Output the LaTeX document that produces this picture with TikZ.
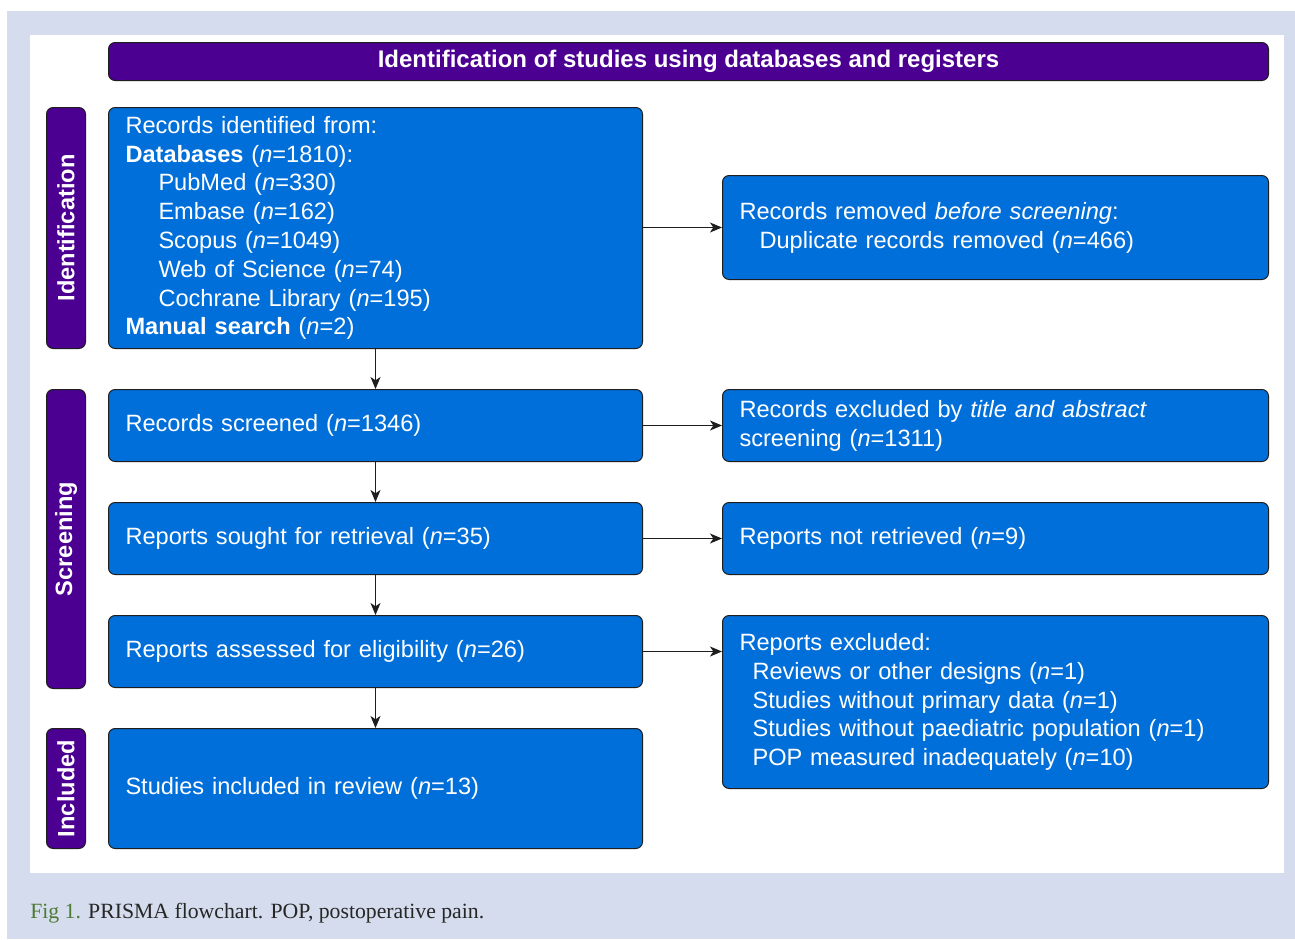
\documentclass[tikz,border=0pt]{standalone}
\usepackage{fontspec}
\setmainfont{Liberation Sans}
\newfontfamily\capfont{Liberation Serif}
\usetikzlibrary{arrows.meta,calc}
\definecolor{boxblue}{RGB}{0,111,218}
\definecolor{hdrpurple}{RGB}{75,0,145}
\definecolor{pagebg}{RGB}{213,220,237}
\definecolor{figgreen}{RGB}{76,122,52}
\definecolor{edge}{RGB}{30,30,30}
\newcommand\mainfs{\fontsize{17.7pt}{21.6pt}\selectfont}
\newcommand\hdrfs{\fontsize{18pt}{21.6pt}\selectfont}
\tikzset{
  bluebox/.style={draw=edge, fill=boxblue, rounded corners=5pt, line width=0.75pt,
    text=white, align=left, inner xsep=12.75pt, inner ysep=0pt, font=\mainfs, anchor=north west},
  leftbox/.style={bluebox, minimum width=400.5pt, text width=375pt},
  rightbox/.style={bluebox, minimum width=409.5pt, text width=384pt},
  sidebar/.style={draw=edge, fill=hdrpurple, rounded corners=5pt, line width=0.75pt,
    minimum width=29.25pt, inner sep=0pt, anchor=north west},
  sidelabel/.style={text=white, font=\mainfs\bfseries, rotate=90, inner sep=0pt},
  flowarrow/.style={draw=edge, line width=0.95pt, -{Stealth[length=9pt,width=7.5pt,inset=2.5pt]}},
}
\begin{document}
\begin{tikzpicture}[x=0.75pt,y=-0.75pt]
\useasboundingbox (0,0) rectangle (1295,939);
\fill[pagebg] (7,11) rectangle (1295,939);
\fill[white] (30,35) rectangle (1284,873);

% header
\node[draw=edge, fill=hdrpurple, rounded corners=5pt, line width=0.75pt, anchor=north west,
  minimum width=870pt, minimum height=28.5pt, inner sep=0pt, text=white, font=\hdrfs\bfseries]
  (hdr) at (108,42) {Identification of studies using databases and registers};

% side bars
\node[sidebar, minimum height=180.75pt] (idbar) at (46,107) {};
\node[sidelabel] (idlab) at (idbar.center) {Identification};
\node[sidebar, minimum height=224.25pt] (scbar) at (46,389) {};
\node[sidelabel] (sclab) at (scbar.center) {Screening};
\node[sidebar, minimum height=90pt] (inbar) at (46,728) {};
\node[sidelabel] (inlab) at (inbar.center) {Included};

% left column
\node[leftbox, minimum height=180.75pt] (b1) at (108,107) {Records identified from:\\
\textbf{Databases} (\textit{n}=1810):\\
\hspace*{24.75pt}PubMed (\textit{n}=330)\\
\hspace*{24.75pt}Embase (\textit{n}=162)\\
\hspace*{24.75pt}Scopus (\textit{n}=1049)\\
\hspace*{24.75pt}Web of Science (\textit{n}=74)\\
\hspace*{24.75pt}Cochrane Library (\textit{n}=195)\\
\textbf{Manual search} (\textit{n}=2)};
\node[leftbox, minimum height=54pt] (b2) at (108,389) {Records screened (\textit{n}=1346)};
\node[leftbox, minimum height=54pt] (b3) at (108,502) {Reports sought for retrieval (\textit{n}=35)};
\node[leftbox, minimum height=54pt] (b4) at (108,615) {Reports assessed for eligibility (\textit{n}=26)};
\node[leftbox, minimum height=90pt] (b5) at (108,728) {Studies included in review (\textit{n}=13)};

% right column
\node[rightbox, minimum height=78pt] (r1) at (722,175) {Records removed \textit{before screening}:\\
\hspace*{15pt}Duplicate records removed (\textit{n}=466)};
\node[rightbox, minimum height=54pt] (r2) at (722,389) {Records excluded by \textit{title and abstract}\\
screening (\textit{n}=1311)};
\node[rightbox, minimum height=54pt] (r3) at (722,502) {Reports not retrieved (\textit{n}=9)};
\node[rightbox, minimum height=129.75pt] (r4) at (722,615) {Reports excluded:\\
\hspace*{9.75pt}Reviews or other designs (\textit{n}=1)\\
\hspace*{9.75pt}Studies without primary data (\textit{n}=1)\\
\hspace*{9.75pt}Studies without paediatric population (\textit{n}=1)\\
\hspace*{9.75pt}POP measured inadequately (\textit{n}=10)};

% arrows
\draw[flowarrow] (b1.south) -- (b2.north);
\draw[flowarrow] (b2.south) -- (b3.north);
\draw[flowarrow] (b3.south) -- (b4.north);
\draw[flowarrow] (b4.south) -- (b5.north);
\draw[flowarrow] (b1.east |- r1.west) -- (r1.west);
\draw[flowarrow] (b2.east) -- (r2.west);
\draw[flowarrow] (b3.east) -- (r3.west);
\draw[flowarrow] (b4.east) -- (b4.east -| r4.west);

% caption
\node[anchor=west, inner sep=0pt, font=\capfont\fontsize{16.3pt}{19pt}\selectfont, text=black!85] (cap) at (30,913)
  {\textcolor{figgreen}{Fig 1.} PRISMA flowchart. POP, postoperative pain.};
\end{tikzpicture}
\end{document}
